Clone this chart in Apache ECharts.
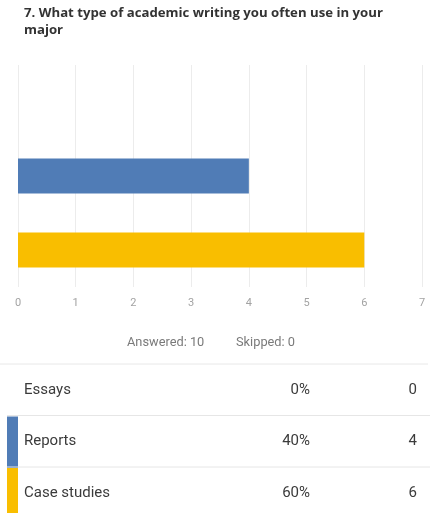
<!DOCTYPE html>
<html>
<head>
<meta charset="utf-8">
<script src="https://cdn.jsdelivr.net/npm/echarts@6/dist/echarts.min.js"></script>
<style>
  html, body { margin: 0; padding: 0; background: #fff; }
  #chart { width: 430px; height: 513px; }
</style>
</head>
<body>
<div id="chart"></div>
<script>
// Survey question 7: answer choices and response counts
const questionTitle = '7. What type of academic writing you often use in your\nmajor';
const choices = ['Essays', 'Reports', 'Case studies'];
const counts = [0, 4, 6];
const choiceColors = ['#9e9e9e', '#507cb6', '#f9be00'];
const answered = 10;
const skipped = 0;
const axisTicks = [0, 1, 2, 3, 4, 5, 6, 7];

const chart = echarts.init(document.getElementById('chart'), null, { renderer: 'canvas' });

const FONT = '"Roboto", "Noto Sans", sans-serif';

// Response table below the chart
const rowTop = 364;
const rowH = 51.5;
const tableGraphics = [];
tableGraphics.push({
  type: 'line', shape: { x1: 0, y1: rowTop, x2: 428, y2: rowTop },
  style: { stroke: '#e8e8e8', lineWidth: 1 }
});
choices.forEach((name, i) => {
  const y0 = rowTop + i * rowH;
  const cy = y0 + rowH / 2;
  if (i > 0) {
    tableGraphics.push({
      type: 'line', shape: { x1: 7, y1: y0, x2: 430, y2: y0 },
      style: { stroke: '#e6e6e6', lineWidth: 1 }
    });
  }
  if (counts[i] > 0) {
    tableGraphics.push({
      type: 'rect', shape: { x: 7, y: y0 + 1, width: 11, height: rowH },
      style: { fill: choiceColors[i] }
    });
  }
  const pct = Math.round(counts[i] / answered * 100) + '%';
  tableGraphics.push(
    { type: 'text', x: 24, y: cy, style: { text: name, font: '15px ' + FONT, fill: '#3b3b3b', textVerticalAlign: 'middle' } },
    { type: 'text', x: 310, y: cy, style: { text: pct, font: '15px ' + FONT, fill: '#3b3b3b', textAlign: 'right', textVerticalAlign: 'middle' } },
    { type: 'text', x: 417, y: cy, style: { text: String(counts[i]), font: '15px ' + FONT, fill: '#3b3b3b', textAlign: 'right', textVerticalAlign: 'middle' } }
  );
});

chart.setOption({
  animation: false,
  backgroundColor: '#ffffff',
  title: {
    text: questionTitle,
    left: 19,
    top: 0,
    textStyle: {
      fontFamily: '"Open Sans", sans-serif',
      fontSize: 13.2,
      fontWeight: 'bold',
      color: '#333333',
      lineHeight: 17
    }
  },
  grid: { left: 18, right: 8, top: 65, height: 222, containLabel: false },
  xAxis: {
    type: 'value',
    min: axisTicks[0],
    max: axisTicks[axisTicks.length - 1],
    interval: 1,
    axisLine: { show: false },
    axisTick: { show: false },
    axisLabel: { color: '#a3a3a3', fontSize: 11, fontFamily: FONT, margin: 11 },
    splitLine: { show: true, lineStyle: { color: '#ececec', width: 1 } }
  },
  yAxis: {
    type: 'category',
    data: choices,
    inverse: true,
    axisLine: { show: false },
    axisTick: { show: false },
    axisLabel: { show: false },
    splitLine: { show: false }
  },
  series: [{
    type: 'bar',
    barWidth: 35,
    data: counts.map((v, i) => ({ value: v, itemStyle: { color: choiceColors[i] } })),
    silent: true
  }],
  graphic: [
    { type: 'text', x: 127, y: 343, style: { text: 'Answered: ' + answered, font: '12.8px ' + FONT, fill: '#7a7a7a', textVerticalAlign: 'middle' } },
    { type: 'text', x: 236, y: 343, style: { text: 'Skipped: ' + skipped, font: '12.8px ' + FONT, fill: '#7a7a7a', textVerticalAlign: 'middle' } }
  ].concat(tableGraphics)
});
</script>
</body>
</html>
